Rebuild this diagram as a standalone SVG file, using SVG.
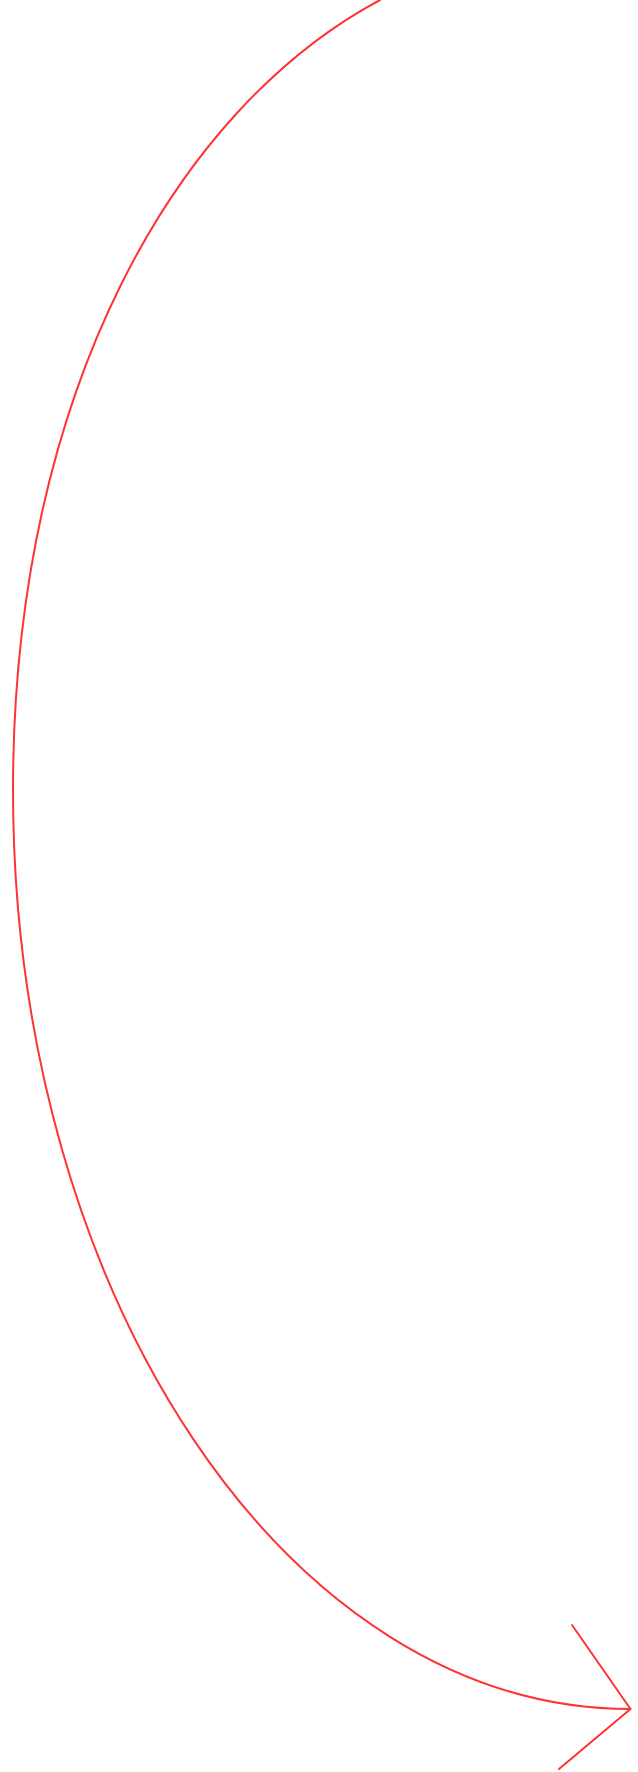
<svg xmlns="http://www.w3.org/2000/svg" width="638" height="1772" viewBox="0 0 638 1772">
<style>.c{fill:none;stroke:#ff3333;stroke-width:2;stroke-linecap:round;stroke-linejoin:round}</style>
<rect width="638" height="1772" fill="#ffffff"/>
<g id="connectors">
<path class="c" d="M380,0 C177.6,108 13,390 13,790 C13,1297.6 289.2,1709 630.5,1709"/>
<path class="c" d="M572,1625 L630.5,1709 L559,1769"/>
</g>
</svg>
